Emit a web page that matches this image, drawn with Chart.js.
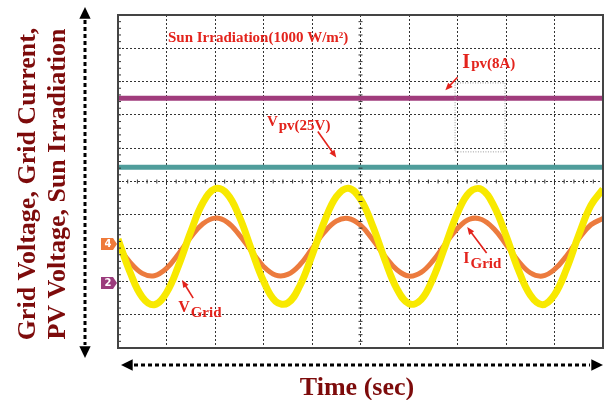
<!DOCTYPE html>
<html>
<head>
<meta charset="utf-8">
<script src="https://cdn.jsdelivr.net/npm/chart.js@4.4.1/dist/chart.umd.min.js"></script>
<style>
html, body { margin: 0; padding: 0; background: #fff; }
canvas { display: block; }
</style>
</head>
<body>
<canvas id="scope" width="606" height="400"></canvas>
<script>
// scope time base, in screen divisions
const timeDiv = [0, 0.25, 0.5, 0.75, 1, 1.25, 1.5, 1.75, 2, 2.25, 2.5, 2.75, 3, 3.25, 3.5, 3.75,
    4, 4.25, 4.5, 4.75, 5, 5.25, 5.5, 5.75, 6, 6.25, 6.5, 6.75, 7, 7.25, 7.5, 7.75,
    8, 8.25, 8.5, 8.75, 9, 9.25, 9.5, 9.75, 10];

// traces, in vertical divisions (0 = bottom)
const gridVoltage = [3.27, 2.27, 1.53, 1.30, 1.66, 2.48, 3.49, 4.36, 4.78, 4.63, 3.95, 2.96, 2.01, 1.40,
    1.35, 1.87, 2.78, 3.78, 4.54, 4.80, 4.47, 3.67, 2.66, 1.78, 1.33, 1.45, 2.11, 3.08, 4.05, 4.68,
    4.76, 4.27, 3.38, 2.37, 1.59, 1.30, 1.60, 2.38, 3.39, 4.28, 4.77];
const gridCurrent = [3.06, 2.57, 2.24, 2.17, 2.39, 2.83, 3.33, 3.73, 3.90, 3.78, 3.40, 2.91, 2.45, 2.19,
    2.21, 2.50, 2.98, 3.47, 3.81, 3.89, 3.69, 3.26, 2.76, 2.35, 2.16, 2.27, 2.63, 3.13, 3.59, 3.87,
    3.86, 3.58, 3.11, 2.62, 2.26, 2.16, 2.36, 2.77, 3.28, 3.70, 3.89];

const pvTime = [0, 10];
const pvCurrent = [7.5, 7.5];
const pvVoltage = [5.43, 5.43];

// channel markers on the left edge
const channelTags = ['4', '2'];
const channelLevels = [3.12, 1.95];

const red = '#e3231c';
const darkRed = '#7d0b0b';

function points(xs, ys) {
    return xs.map((x, i) => ({ x: x, y: ys[i] }));
}

// text labels + arrows, placed in division units
const notes = [
    { main: 'Sun Irradiation(1000 W/m²)', sub: '', x: 1.03, y: 9.19 },
    { main: 'I', sub: 'pv(8A)', x: 7.1, y: 8.4, mainSize: 20, rise: 0, arrow: [7.0, 8.13, 6.75, 7.74] },
    { main: 'V', sub: 'pv(25V)', x: 3.07, y: 6.55, mainSize: 15, rise: 4, arrow: [4.12, 6.5, 4.5, 5.72] },
    { main: 'I', sub: 'Grid', x: 7.12, y: 2.4, mainSize: 16, rise: 5, arrow: [7.6, 2.85, 7.2, 3.63] },
    { main: 'V', sub: 'Grid', x: 1.24, y: 0.93, mainSize: 16, rise: 5, arrow: [1.55, 1.5, 1.32, 2.04] }
];

function arrow(ctx, x1, y1, x2, y2, size, color) {
    const a = Math.atan2(y2 - y1, x2 - x1);
    ctx.strokeStyle = color;
    ctx.fillStyle = color;
    ctx.beginPath();
    ctx.moveTo(x1, y1);
    ctx.lineTo(x2 - Math.cos(a) * size * 0.8, y2 - Math.sin(a) * size * 0.8);
    ctx.stroke();
    ctx.beginPath();
    ctx.moveTo(x2, y2);
    ctx.lineTo(x2 - size * Math.cos(a - 0.4), y2 - size * Math.sin(a - 0.4));
    ctx.lineTo(x2 - size * Math.cos(a + 0.4), y2 - size * Math.sin(a + 0.4));
    ctx.closePath();
    ctx.fill();
}

function dashedDoubleArrow(ctx, x1, y1, x2, y2) {
    const a = Math.atan2(y2 - y1, x2 - x1);
    const head = 13;
    ctx.save();
    ctx.strokeStyle = '#000';
    ctx.fillStyle = '#000';
    ctx.lineWidth = 3;
    ctx.setLineDash([4, 3]);
    ctx.beginPath();
    ctx.moveTo(x1 + Math.cos(a) * head, y1 + Math.sin(a) * head);
    ctx.lineTo(x2 - Math.cos(a) * head, y2 - Math.sin(a) * head);
    ctx.stroke();
    ctx.setLineDash([]);
    [[x1, y1, a + Math.PI], [x2, y2, a]].forEach(([x, y, b]) => {
        ctx.beginPath();
        ctx.moveTo(x, y);
        ctx.lineTo(x - head * Math.cos(b - 0.45), y - head * Math.sin(b - 0.45));
        ctx.lineTo(x - head * Math.cos(b + 0.45), y - head * Math.sin(b + 0.45));
        ctx.closePath();
        ctx.fill();
    });
    ctx.restore();
}

const scopeDecor = {
    id: 'scopeDecor',
    afterDraw(chart) {
        const ctx = chart.ctx;
        const xs = chart.scales.x;
        const ys = chart.scales.y;
        const area = chart.chartArea;

        // faint cursor box left on the screen
        ctx.save();
        ctx.strokeStyle = '#9a9a9a';
        ctx.lineWidth = 1;
        ctx.setLineDash([1, 1.5]);
        const bx = xs.getPixelForValue(6.95), by = ys.getPixelForValue(7.96);
        ctx.strokeRect(bx, by, xs.getPixelForValue(7.98) - bx, ys.getPixelForValue(5.89) - by);
        ctx.restore();

        // center cross with fine ticks
        ctx.save();
        ctx.strokeStyle = '#333';
        ctx.lineWidth = 1;
        const cx = xs.getPixelForValue(5);
        const cy = ys.getPixelForValue(5);
        for (let k = 1; k < 50; k++) {
            const v = k / 5;
            const px = xs.getPixelForValue(v);
            const py = ys.getPixelForValue(v);
            ctx.beginPath();
            ctx.moveTo(px, cy - 2);
            ctx.lineTo(px, cy + 2);
            ctx.moveTo(cx - 2, py);
            ctx.lineTo(cx + 2, py);
            ctx.moveTo(area.left, py);
            ctx.lineTo(area.left + 3, py);
            ctx.stroke();
        }
        // frame
        ctx.strokeStyle = '#444';
        ctx.lineWidth = 2;
        ctx.strokeRect(area.left, area.top, area.right - area.left, area.bottom - area.top);
        ctx.restore();

        // channel tags
        ctx.save();
        channelTags.forEach((t, i) => {
            const y = ys.getPixelForValue(channelLevels[i]);
            const x = area.left - 17;
            ctx.fillStyle = i === 0 ? '#ef7a3a' : '#9b3c7c';
            ctx.beginPath();
            ctx.moveTo(x, y - 6);
            ctx.lineTo(x + 12, y - 6);
            ctx.lineTo(x + 16, y);
            ctx.lineTo(x + 12, y + 6);
            ctx.lineTo(x, y + 6);
            ctx.closePath();
            ctx.fill();
            ctx.fillStyle = '#fff';
            ctx.font = 'bold 10px "DejaVu Sans"';
            ctx.textAlign = 'center';
            ctx.textBaseline = 'middle';
            ctx.fillText(t, x + 7, y + 0.5);
        });
        ctx.restore();

        // annotations
        ctx.save();
        ctx.fillStyle = red;
        ctx.textBaseline = 'alphabetic';
        ctx.textAlign = 'left';
        ctx.lineWidth = 1.6;
        notes.forEach(n => {
            const x = xs.getPixelForValue(n.x);
            const y = ys.getPixelForValue(n.y);
            if (!n.sub) {
                ctx.font = 'bold 15px "Liberation Serif"';
                ctx.fillText(n.main, x, y);
            } else {
                ctx.font = 'bold ' + n.mainSize + 'px "Liberation Serif"';
                ctx.fillText(n.main, x, y - n.rise);
                const w = ctx.measureText(n.main).width;
                ctx.font = 'bold 15px "Liberation Serif"';
                ctx.fillText(n.sub, x + w + 1, y);
            }
            if (n.arrow) {
                arrow(ctx, xs.getPixelForValue(n.arrow[0]), ys.getPixelForValue(n.arrow[1]),
                    xs.getPixelForValue(n.arrow[2]), ys.getPixelForValue(n.arrow[3]), 8, red);
            }
        });
        ctx.restore();

        // axis titles and arrows
        ctx.save();
        ctx.fillStyle = darkRed;
        ctx.font = 'bold 26px "Liberation Serif"';
        ctx.textAlign = 'center';
        ctx.textBaseline = 'middle';
        ctx.translate(28, 184);
        ctx.rotate(-Math.PI / 2);
        ctx.fillText('Grid Voltage, Grid Current,', 0, 0);
        ctx.fillText('PV Voltage, Sun Irradiation', 0, 30);
        ctx.restore();

        ctx.save();
        ctx.fillStyle = darkRed;
        ctx.font = 'bold 26px "Liberation Serif"';
        ctx.textAlign = 'center';
        ctx.textBaseline = 'middle';
        ctx.fillText('Time (sec)', 357, 388);
        ctx.restore();

        dashedDoubleArrow(ctx, 85, 7, 85, 358);
        dashedDoubleArrow(ctx, 121, 365, 603, 365);
    }
};

const scopeChart = new Chart(document.getElementById('scope'), {
    type: 'line',
    data: {
        datasets: [
            {
                label: 'Ipv',
                data: points(pvTime, pvCurrent),
                borderColor: '#a03c7c',
                borderWidth: 5,
                pointRadius: 0
            },
            {
                label: 'Vpv',
                data: points(pvTime, pvVoltage),
                borderColor: '#4f9d9b',
                borderWidth: 5,
                pointRadius: 0
            },
            {
                label: 'VGrid',
                data: points(timeDiv, gridVoltage),
                borderColor: '#f8e900',
                borderWidth: 7,
                tension: 0.4,
                pointRadius: 0
            },
            {
                label: 'IGrid',
                data: points(timeDiv, gridCurrent),
                borderColor: '#ec7b3e',
                borderWidth: 5,
                tension: 0.4,
                pointRadius: 0
            }
        ]
    },
    options: {
        responsive: false,
        animation: false,
        devicePixelRatio: 1,
        layout: {
            padding: { left: 118, top: 15, right: 3, bottom: 52 }
        },
        plugins: {
            legend: { display: false },
            tooltip: { enabled: false }
        },
        scales: {
            x: {
                type: 'linear',
                min: 0,
                max: 10,
                ticks: { display: false, stepSize: 1 },
                grid: { color: '#333', drawTicks: false, lineWidth: 1 },
                border: { display: false, dash: [2, 2] }
            },
            y: {
                min: 0,
                max: 10,
                ticks: { display: false, stepSize: 1 },
                grid: { color: '#333', drawTicks: false, lineWidth: 1 },
                border: { display: false, dash: [2, 2] }
            }
        }
    },
    plugins: [scopeDecor]
});
</script>
</body>
</html>
